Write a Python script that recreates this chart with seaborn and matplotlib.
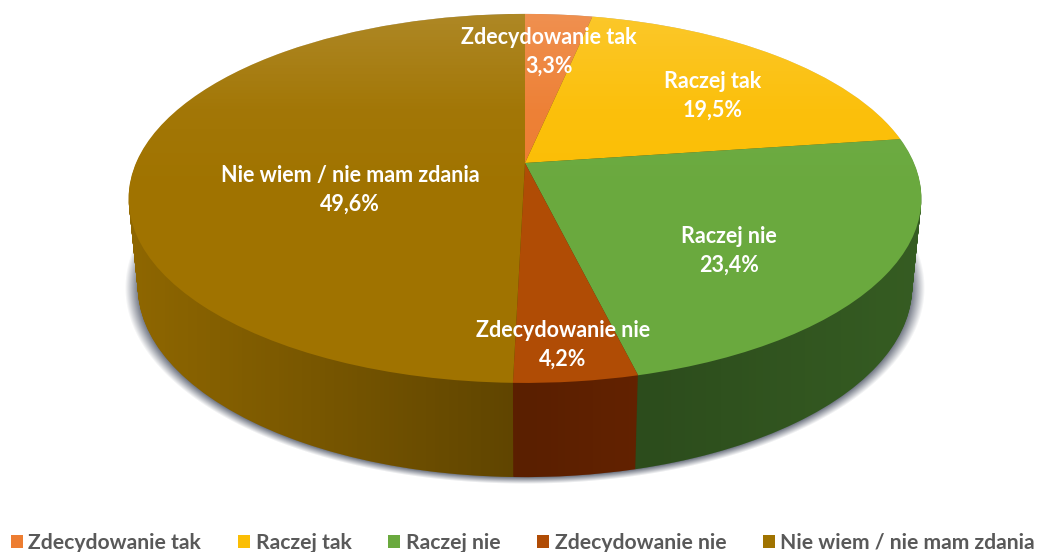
"""
3D looking pie chart with legend, drawn from stacked ax.pie layers.
Output: out.png
"""
import numpy as np
import matplotlib.pyplot as plt
from matplotlib.path import Path
from matplotlib.patches import PathPatch
from matplotlib.transforms import Transform
import seaborn as sns

categories = ["Zdecydowanie tak", "Raczej tak", "Raczej nie", "Zdecydowanie nie", "Nie wiem / nie mam zdania"]
values = [3.3, 19.5, 23.4, 4.2, 49.6]
top_colors = ["#ED7D31", "#FBBE05", "#6AA93E", "#B04C05", "#A07300"]
side_colors = ["#8E4A1C", "#997300", "#3D6927", "#882F00", "#8F6700"]

# label centres in pixels
label_pos = [(549, 52), (713, 96), (729, 251), (563, 345), (350, 190)]

W, H = 1047, 552
CX = 525
K = 0.192        # perspective of the disc
DEPTH_STEPS = 94


class Perspective(Transform):
    """Unit disc -> tilted disc, in pixel coordinates."""
    input_dims = 2
    output_dims = 2

    def __init__(self, t=0.0):
        super().__init__()
        self.b = 389 - 9 * t
        self.a = 177.7 + 5.8 * t
        self.apex = 163 + 87 * t

    def transform_non_affine(self, xy):
        xy = np.asarray(xy, dtype=float)
        w = 1 + K * xy[:, 1]
        return np.column_stack([CX + self.b * xy[:, 0] / w, self.apex - self.a * xy[:, 1] / w])


def rim(t):
    ang = np.linspace(0, 2 * np.pi, 361)
    return Perspective(t).transform_non_affine(np.column_stack([np.cos(ang), np.sin(ang)]))


def draw_pie(ax, colors, t):
    wedges, _ = ax.pie(values, colors=colors, startangle=90, counterclock=False,
                       wedgeprops={"linewidth": 0})
    proj = Perspective(t)
    for w in wedges:
        w.set_transform(proj + ax.transData)
        w.set_clip_on(False)
    return wedges


sns.set_theme(style="white")
plt.rcParams["font.family"] = ["Lato", "DejaVu Sans"]

fig = plt.figure(figsize=(W / 100, H / 100), dpi=100, facecolor="white")
ax = fig.add_axes([0, 0, 1, 1])
extent = (0, W, H, 0)
yy, xx = np.mgrid[0:H, 0:W] + 0.5

# soft shadow below the pie
r = np.sqrt(((xx - CX) / 400) ** 2 + ((yy - 288) / 196) ** 2)
shadow = np.zeros((H, W, 4))
shadow[..., :3] = (0.33, 0.36, 0.42)
shadow[..., 3] = np.clip((1 - r) / 0.035, 0, 1) * 0.85
ax.imshow(shadow, extent=extent, aspect="auto", zorder=0)

# side of the pie: the same pie repeated pixel by pixel, bottom first
for i in range(DEPTH_STEPS, 0, -1):
    draw_pie(ax, side_colors, i / DEPTH_STEPS)

# horizontal shading on the side
outline = Path.make_compound_path(*[Path(rim(t)) for t in np.linspace(0, 1, 30)])
side_clip = PathPatch(outline, transform=ax.transData, fc="none", ec="none")
ax.add_patch(side_clip)
shade = np.zeros((H, W, 4))
shade[..., 3] = np.interp(xx, [128, 525, 921], [0.0, 0.34, 0.12])
im = ax.imshow(shade, extent=extent, aspect="auto", zorder=1.5)
im.set_clip_path(side_clip)
for w in ax.patches:
    w.set_zorder(1)

# top face with a light sheen towards the back
top_wedges = draw_pie(ax, top_colors, 0)
for w in top_wedges:
    w.set_zorder(2)
top_clip = PathPatch(Path(rim(0)), transform=ax.transData, fc="none", ec="none")
ax.add_patch(top_clip)
sheen = np.ones((H, W, 4))
sheen[..., 3] = np.interp(yy, [14, 110, 200], [0.15, 0.03, 0.0])
im2 = ax.imshow(sheen, extent=extent, aspect="auto", zorder=2.5)
im2.set_clip_path(top_clip)

# data labels
for name, val, (x, y) in zip(categories, values, label_pos):
    ax.text(x, y, name + "\n" + f"{val:.1f}%".replace(".", ","), ha="center", va="center",
            color="white", fontsize=15.5, fontweight="bold", linespacing=1.45, zorder=5)

# legend along the bottom
ax.legend(top_wedges, categories, loc="lower left", bbox_to_anchor=(9 / W, -3 / H), ncols=5,
          frameon=False, handlelength=0.57, handleheight=0.57, handletextpad=0.25,
          columnspacing=1.75, borderpad=0, borderaxespad=0.1, labelcolor="#595959",
          prop={"weight": "bold", "size": 15.2})

ax.set_aspect("auto")
ax.set_xlim(0, W)
ax.set_ylim(H, 0)
ax.axis("off")

plt.savefig("out.png", dpi=100, facecolor="white")
plt.close()
